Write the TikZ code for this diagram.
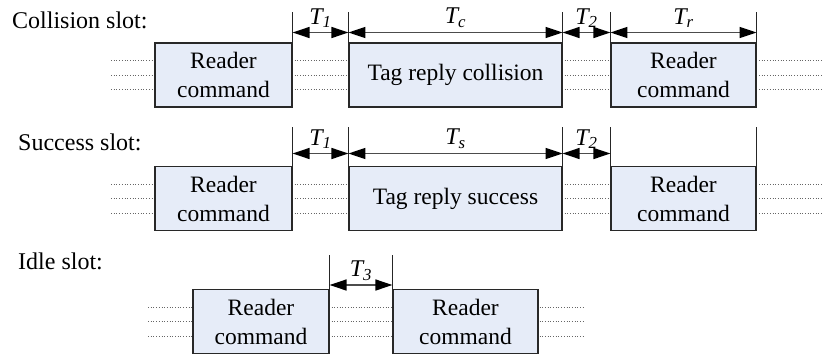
\documentclass[tikz,border=0pt]{standalone}
\usepackage{fontspec}
\setmainfont{Liberation Serif}
\usetikzlibrary{arrows.meta, positioning, backgrounds}

\begin{document}
\begin{tikzpicture}[x=1pt, y=-1pt,
  slotbox/.style={rectangle, draw=boxline, fill=boxfill, line width=1.1pt, minimum height=64pt, inner sep=0pt, align=center, font=\fontsize{23.5}{29}\selectfont},
  slotname/.style={anchor=base west, inner sep=0pt, font=\fontsize{24}{28}\selectfont},
  tick/.style={draw=black!85, line width=0.9pt},
  span/.style={draw=black!70, line width=1.4pt, {Triangle[length=17pt, width=11pt, color=black]}-{Triangle[length=17pt, width=11pt, color=black]}},
  tlabel/.style={midway, above=4pt, inner sep=0pt, font=\fontsize{24}{28}\itshape},
  guide/.style={draw=black!60, line width=0.7pt, dotted}]
  % Colours
  \definecolor{boxfill}{RGB}{230,236,248}   % light blue
  \definecolor{boxline}{RGB}{40,40,40}      % dark grey
  \useasboundingbox (0,0) rectangle (825,356);

  % Slot names
  \node[slotname] (collname) at (12,28) {Collision slot:};
  \node[slotname] (succname) at (18,150) {Success slot:};
  \node[slotname] (idlename) at (18,269) {Idle slot:};

  % Dotted signal lines
  \foreach \dy in {-14.5,0,14.5} {
    \draw[guide] (111,75+\dy) -- (823,75+\dy);
    \draw[guide] (111,198.5+\dy) -- (823,198.5+\dy);
    \draw[guide] (148,321.5+\dy) -- (583,321.5+\dy);
  }

  % Collision slot
  \node[slotbox, minimum width=137pt] (rcA) at (223.5,75) {Reader\\command};
  \node[slotbox, minimum width=213pt] (tcoll) at (455.5,75) {Tag reply collision};
  \node[slotbox, minimum width=145pt] (rcB) at (683.5,75) {Reader\\command};
  \coordinate (colltop) at (0,12);
  \coordinate (collarr) at (0,32.5);
  \foreach \n in {rcA.north east, tcoll.north west, tcoll.north east, rcB.north west, rcB.north east}
    \draw[tick] (\n) -- (\n |- colltop);
  \draw[span] (rcA.north east |- collarr) -- node[tlabel] {T\textsubscript{1}} (tcoll.north west |- collarr);
  \draw[span] (tcoll.north west |- collarr) -- node[tlabel] {T\textsubscript{c}} (tcoll.north east |- collarr);
  \draw[span] (tcoll.north east |- collarr) -- node[tlabel] {T\textsubscript{2}} (rcB.north west |- collarr);
  \draw[span] (rcB.north west |- collarr) -- node[tlabel] {T\textsubscript{r}} (rcB.north east |- collarr);

  % Success slot
  \node[slotbox, minimum width=137pt] (rcC) at (223.5,198.5) {Reader\\command};
  \node[slotbox, minimum width=213pt] (tsucc) at (455.5,198.5) {Tag reply success};
  \node[slotbox, minimum width=145pt] (rcD) at (683.5,198.5) {Reader\\command};
  \coordinate (succtop) at (0,127);
  \coordinate (succarr) at (0,153.5);
  \foreach \n in {rcC.north east, tsucc.north west, tsucc.north east, rcD.north west, rcD.north east}
    \draw[tick] (\n) -- (\n |- succtop);
  \draw[span] (rcC.north east |- succarr) -- node[tlabel] {T\textsubscript{1}} (tsucc.north west |- succarr);
  \draw[span] (tsucc.north west |- succarr) -- node[tlabel] {T\textsubscript{s}} (tsucc.north east |- succarr);
  \draw[span] (tsucc.north east |- succarr) -- node[tlabel] {T\textsubscript{2}} (rcD.north west |- succarr);

  % Idle slot
  \node[slotbox, minimum width=136pt] (rcE) at (261,321.5) {Reader\\command};
  \node[slotbox, minimum width=145pt] (rcF) at (465.5,321.5) {Reader\\command};
  \coordinate (idletop) at (0,255);
  \coordinate (idlearr) at (0,285);
  \foreach \n in {rcE.north east, rcF.north west}
    \draw[tick] (\n) -- (\n |- idletop);
  \draw[span] (rcE.north east |- idlearr) -- node[tlabel] {T\textsubscript{3}} (rcF.north west |- idlearr);
\end{tikzpicture}
\end{document}
